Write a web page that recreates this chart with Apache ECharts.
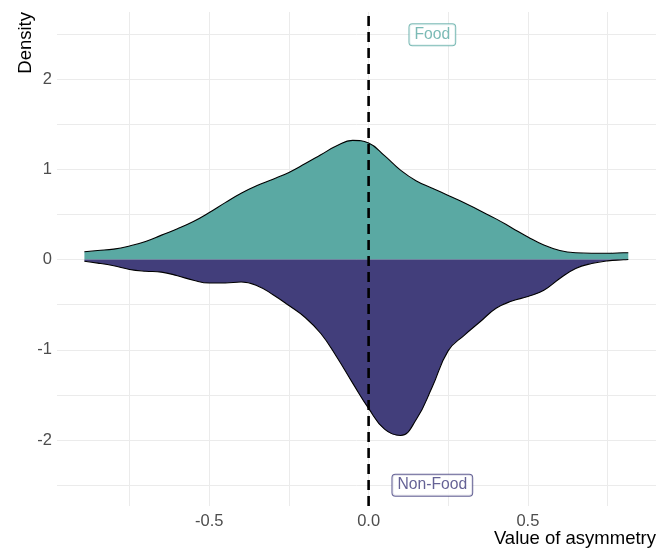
<!DOCTYPE html>
<html>
<head>
<meta charset="utf-8">
<script src="https://cdn.jsdelivr.net/npm/echarts@6/dist/echarts.min.js"></script>
<style>html,body{margin:0;padding:0;background:#fff;}#c{width:666px;height:551px;}</style>
</head>
<body>
<div id="c"></div>
<script>
// ---- data ----
var densX = [-0.892,-0.85,-0.80,-0.75,-0.70,-0.65,-0.60,-0.55,-0.50,-0.45,-0.40,-0.35,-0.30,-0.25,-0.20,-0.15,-0.10,-0.05,0.00,0.05,0.10,0.15,0.20,0.25,0.30,0.35,0.40,0.45,0.50,0.55,0.60,0.65,0.70,0.75,0.80,0.815];
var foodY = [0.086,0.10,0.115,0.15,0.20,0.27,0.34,0.42,0.52,0.63,0.735,0.82,0.89,0.965,1.06,1.16,1.26,1.32,1.29,1.15,0.99,0.87,0.79,0.71,0.63,0.54,0.45,0.35,0.25,0.16,0.10,0.075,0.07,0.07,0.074,0.075];
var nonFoodY = [-0.02,-0.04,-0.07,-0.11,-0.13,-0.14,-0.18,-0.23,-0.26,-0.26,-0.25,-0.29,-0.39,-0.51,-0.64,-0.82,-1.08,-1.37,-1.65,-1.88,-1.95,-1.77,-1.41,-1.01,-0.84,-0.69,-0.54,-0.46,-0.41,-0.34,-0.21,-0.10,-0.045,-0.015,-0.003,0];
var xTicks = [-0.5, 0, 0.5];
var yTicks = [-2, -1, 0, 1, 2];
var xGrid = [-0.75, -0.5, -0.25, 0, 0.25, 0.5, 0.75];
var yGrid = [-2.5, -2, -1.5, -1, -0.5, 0, 0.5, 1, 1.5, 2, 2.5];
var refLineX = 0;
var labelNames = ['Food', 'Non-Food'];
var labelX = [0.2, 0.2];
var labelY = [2.49, -2.5];
var xRange = [-0.978, 0.902];
var yRange = [-2.731, 2.742];
// ---- chart ----
var FONT = 'Liberation Sans, Arial, sans-serif';
var TEAL = '#5AA9A3', PURPLE = '#423E7B', PURPLE_TXT = '#3F3B7A';
function zip(a, b) { return a.map(function (v, i) { return [v, b[i]]; }); }
var gridLines = [];
xGrid.forEach(function (v) { gridLines.push({ xAxis: v }); });
yGrid.forEach(function (v) { gridLines.push({ yAxis: v }); });

var chart = echarts.init(document.getElementById('c'), null, { renderer: 'canvas' });
chart.setOption({
  animation: false,
  backgroundColor: '#ffffff',
  grid: { left: 57, right: 10, top: 12, bottom: 45, containLabel: false },
  xAxis: {
    type: 'value', min: xRange[0], max: xRange[1],
    axisLine: { show: false }, axisTick: { show: false }, splitLine: { show: false },
    axisLabel: {
      customValues: xTicks, color: '#4D4D4D', fontSize: 16.5, fontFamily: FONT, margin: 7,
      formatter: function (v) { return v.toFixed(1); }
    }
  },
  yAxis: {
    type: 'value', min: yRange[0], max: yRange[1],
    axisLine: { show: false }, axisTick: { show: false }, splitLine: { show: false },
    axisLabel: {
      customValues: yTicks, color: '#4D4D4D', fontSize: 16.5, fontFamily: FONT, margin: 5,
      formatter: function (v) { return String(Math.round(v)); }
    }
  },
  graphic: [
    { type: 'text', x: 656, y: 539, style: { text: 'Value of asymmetry', fontSize: 18.5, fontFamily: FONT, fill: '#000', align: 'right', verticalAlign: 'middle' } },
    { type: 'text', x: 26, y: 12, rotation: Math.PI / 2, style: { text: 'Density', fontSize: 18.5, fontFamily: FONT, fill: '#000', align: 'right', verticalAlign: 'middle' } }
  ],
  series: [
    {
      type: 'line', zlevel: 0, z: 0, data: [], showSymbol: false, symbol: 'none',
      lineStyle: { opacity: 0 }, silent: true,
      markLine: { silent: true, symbol: 'none', label: { show: false }, animation: false,
        lineStyle: { color: '#EBEBEB', width: 1, type: 'solid' }, emphasis: { disabled: true },
        data: gridLines }
    },
    {
      name: 'Food', type: 'line', zlevel: 1, z: 2, data: zip(densX, foodY), smooth: 0.45,
      symbol: 'none', showSymbol: false,
      lineStyle: { color: '#000', width: 1.1 },
      areaStyle: { color: TEAL, opacity: 1, origin: 0 }
    },
    {
      name: 'Non-Food', type: 'line', zlevel: 1, z: 2, data: zip(densX, nonFoodY), smooth: 0.45,
      symbol: 'none', showSymbol: false,
      lineStyle: { color: '#000', width: 1.1 },
      areaStyle: { color: PURPLE, opacity: 1, origin: 0 }
    },
    {
      type: 'line', zlevel: 2, z: 5, data: [[refLineX, yRange[0]], [refLineX, yRange[1]]],
      showSymbol: false, symbol: 'none', silent: true,
      lineStyle: { color: '#000', width: 2.6, type: [10, 6] }
    },
    {
      type: 'scatter', zlevel: 2, z: 6, symbolSize: 0, silent: true,
      data: labelNames.map(function (n, i) {
        var c = i === 0 ? TEAL : PURPLE_TXT;
        return {
          value: [labelX[i], labelY[i]], name: n,
          label: {
            show: true, position: 'inside', formatter: n, color: c, fontSize: 15.7, fontFamily: FONT,
            backgroundColor: '#fff', borderColor: c, borderWidth: 1, borderRadius: 3,
            padding: [3, 5, 2, 5]
          }
        };
      })
    }
  ]
});
</script>
</body>
</html>
